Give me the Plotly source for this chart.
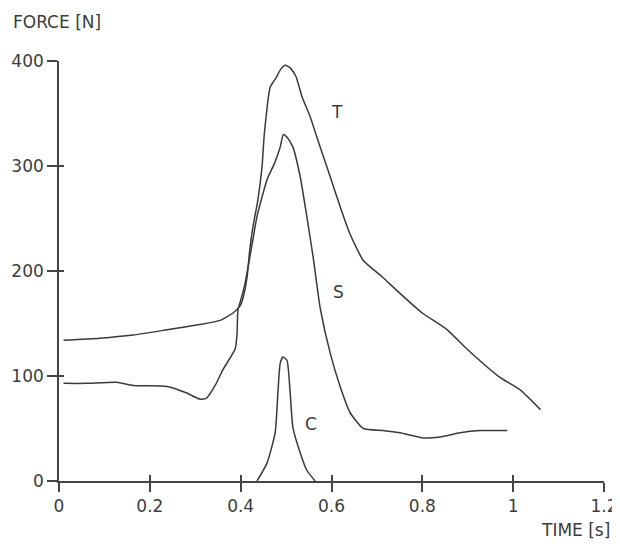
import plotly.graph_objects as go

# ---- data (time in s, force in N) ----
t_T = [0.01, 0.09, 0.163, 0.238, 0.31, 0.355, 0.383, 0.399, 0.405, 0.414, 0.42, 0.427, 0.438, 0.447,
       0.452, 0.465, 0.478, 0.488, 0.498, 0.51, 0.522, 0.535, 0.553, 0.575, 0.597, 0.62, 0.64, 0.67,
       0.71, 0.75, 0.80, 0.855, 0.90, 0.97, 1.015, 1.06]
F_T = [134, 136, 139, 144, 149, 153, 160, 167, 174, 194, 220, 242, 268, 299,
       330, 375, 384, 392, 396, 393, 385, 366, 347, 318, 290, 260, 236, 210,
       195, 179, 160, 144, 125, 99, 87, 68]

t_S = [0.01, 0.06, 0.127, 0.163, 0.238, 0.28, 0.31, 0.325, 0.345, 0.361, 0.388, 0.392, 0.394, 0.40,
       0.41, 0.427, 0.436, 0.458, 0.475, 0.487, 0.494, 0.503, 0.515, 0.531, 0.546, 0.56, 0.575,
       0.597, 0.619, 0.641, 0.67, 0.714, 0.751, 0.802, 0.839, 0.883, 0.927, 0.987]
F_S = [93, 93, 94, 91, 90, 84, 78, 79, 92, 106, 126, 140, 163, 172,
       189, 230, 252, 287, 303, 318, 330, 327, 318, 290, 251, 212, 165,
       122, 90, 65, 50, 48, 46, 41, 42, 46, 48, 48]

t_C = [0.436, 0.458, 0.476, 0.482, 0.487, 0.493, 0.502, 0.509, 0.515, 0.531, 0.546, 0.564]
F_C = [0, 17, 46, 84, 112, 118, 115, 84, 51, 27, 10, 0]

x_ticks = [0, 0.2, 0.4, 0.6, 0.8, 1.0, 1.2]
x_ticktext = ["0", "0.2", "0.4", "0.6", "0.8", "1", "1.2"]
y_ticks = [0, 100, 200, 300, 400]
y_ticktext = ["0", "100", "200", "300", "400"]

labels = ["T", "S", "C"]
label_t = [0.612, 0.615, 0.555]
label_F = [351, 180, 54]

LINE = "#3a3a3a"
TXT = "#3c3c3c"
FONT = "DejaVu Sans, Liberation Sans, Arial, sans-serif"
FS = 17

fig = go.Figure()
for tt, ff in [(t_T, F_T), (t_S, F_S), (t_C, F_C)]:
    fig.add_trace(go.Scatter(x=tt, y=ff, mode="lines",
                             line=dict(color=LINE, width=1.5, shape="spline", smoothing=0.5),
                             showlegend=False, hoverinfo="skip", cliponaxis=False))
# empty trace to activate overlay axes (inner half of crossing ticks)
fig.add_trace(go.Scatter(x=[], y=[], xaxis="x2", yaxis="y2", showlegend=False))

for lab, lx, ly in zip(labels, label_t, label_F):
    fig.add_annotation(x=lx, y=ly, text=lab, showarrow=False,
                       font=dict(family=FONT, size=FS, color=TXT))

fig.add_annotation(xref="paper", yref="paper", x=-0.088, y=1.092, xanchor="left", yanchor="middle",
                   text="FORCE [N]", showarrow=False, font=dict(family=FONT, size=FS, color=TXT))
fig.add_annotation(xref="paper", yref="paper", x=1.014, y=-0.145, xanchor="right", yanchor="bottom",
                   text="TIME [s]", showarrow=False, font=dict(family=FONT, size=FS, color=TXT))

axis_common = dict(showgrid=False, zeroline=False, linecolor="#444", linewidth=1.6,
                   tickcolor="#444", tickwidth=1.6, automargin=False,
                   tickfont=dict(family=FONT, size=FS, color=TXT))

# page body has an 8px margin: figure is 8px smaller and margins shifted accordingly
fig.update_layout(
    width=612, height=536,
    margin=dict(l=51, r=16, t=53, b=63),
    paper_bgcolor="white", plot_bgcolor="white",
    xaxis=dict(range=[0, 1.2], tickmode="array", tickvals=x_ticks, ticktext=x_ticktext,
               ticks="outside", ticklen=9, showline=True, anchor="y", **axis_common),
    yaxis=dict(range=[0, 400], tickmode="array", tickvals=y_ticks, ticktext=y_ticktext,
               ticks="outside", ticklen=10, showline=True, anchor="x", **axis_common),
    xaxis2=dict(range=[0, 1.2], overlaying="x", anchor="y2", side="bottom", tickmode="array",
                tickvals=x_ticks, ticks="inside", ticklen=6, showticklabels=False, automargin=False,
                showline=False, showgrid=False, zeroline=False, tickcolor="#444", tickwidth=1.6),
    yaxis2=dict(range=[0, 400], overlaying="y", anchor="x2", side="left", tickmode="array",
                tickvals=y_ticks, ticks="inside", ticklen=5, showticklabels=False, automargin=False,
                showline=False, showgrid=False, zeroline=False, tickcolor="#444", tickwidth=1.6),
)

fig.write_html("out.html")
